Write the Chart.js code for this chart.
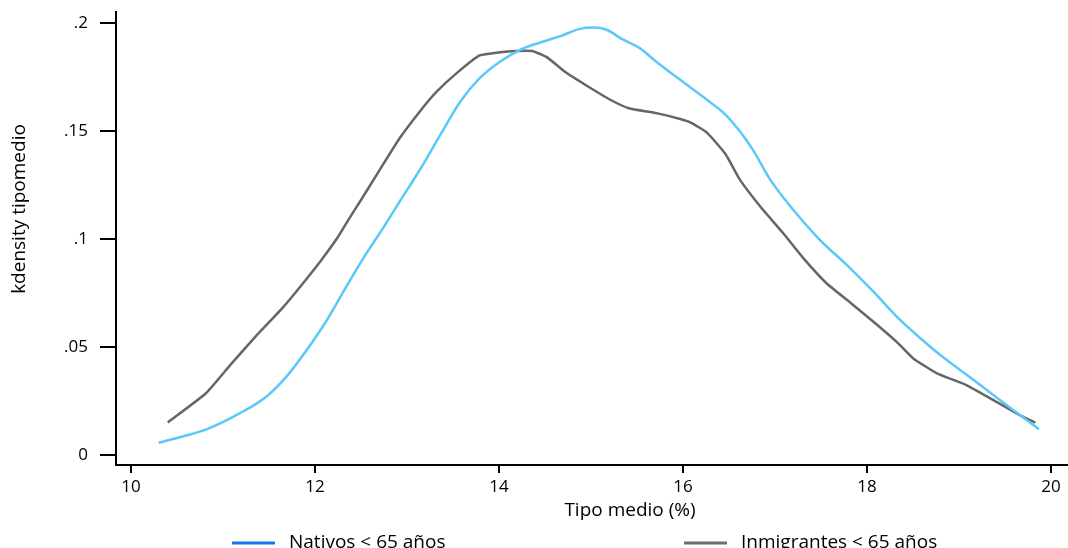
<!DOCTYPE html>
<html>
<head>
<meta charset="utf-8">
<script src="https://cdn.jsdelivr.net/npm/chart.js@4.4.1/dist/chart.umd.min.js"></script>
<style>
  body { margin: 0; background: #fff; }
  #wrap { width: 1068px; height: 548px; }
</style>
</head>
<body>
<div id="wrap"><canvas id="myChart"></canvas></div>
<script>
// kdensity of tipomedio
var natX = [10.30, 10.55, 10.82, 11.18, 11.47, 11.69, 11.91, 12.13, 12.34, 12.56, 12.74, 12.92, 13.14, 13.36, 13.58, 13.79, 14.01, 14.23, 14.45, 14.66, 14.88, 15.03, 15.17, 15.32, 15.53, 15.71, 15.97, 16.26, 16.45, 16.62, 16.76, 16.95, 17.20, 17.49, 17.78, 18.07, 18.36, 18.65, 18.79, 19.16, 19.52, 19.87];
var natY = [0.0057, 0.0085, 0.0119, 0.0193, 0.0270, 0.0363, 0.0486, 0.0625, 0.0779, 0.0934, 0.1050, 0.1173, 0.1320, 0.1480, 0.1636, 0.1744, 0.1820, 0.1875, 0.1909, 0.1937, 0.1972, 0.1978, 0.1968, 0.1929, 0.1883, 0.1820, 0.1736, 0.1644, 0.1580, 0.1497, 0.1412, 0.1273, 0.1134, 0.0995, 0.0880, 0.0756, 0.0625, 0.0515, 0.0465, 0.0347, 0.0231, 0.0119];

var immX = [10.40, 10.815, 11.08, 11.37, 11.66, 11.87, 12.07, 12.24, 12.38, 12.50, 12.71, 12.92, 13.14, 13.32, 13.54, 13.79, 14.01, 14.19, 14.36, 14.52, 14.72, 14.95, 15.21, 15.41, 15.71, 15.97, 16.08, 16.26, 16.46, 16.62, 16.84, 17.09, 17.31, 17.56, 17.82, 18.07, 18.32, 18.50, 18.76, 19.08, 19.37, 19.66, 19.83];
var immY = [0.0151, 0.0286, 0.0417, 0.0556, 0.0687, 0.0795, 0.0903, 0.1003, 0.1100, 0.1180, 0.1324, 0.1466, 0.1590, 0.1680, 0.1767, 0.1849, 0.1864, 0.1870, 0.1870, 0.1841, 0.1772, 0.1710, 0.1644, 0.1605, 0.1582, 0.1555, 0.1539, 0.1492, 0.1394, 0.1273, 0.1150, 0.1026, 0.0910, 0.0795, 0.0705, 0.0617, 0.0525, 0.0448, 0.0378, 0.0324, 0.0255, 0.0185, 0.0150];

var xTicks = [10, 12, 14, 16, 18, 20];
var yTicks = [0, 0.05, 0.1, 0.15, 0.2];
var yTickLabels = ["0", ".05", ".1", ".15", ".2"];

var seriesNames = ["Nativos < 65 años", "Inmigrantes < 65 años"];
var lineColors = ["#5ac8fa", "#666666"];
var legendColors = ["#1a73e8", "#6e6e6e"];

var FONT = "'Open Sans', 'DejaVu Sans', sans-serif";

function toPoints(xs, ys) {
  var pts = [];
  for (let i = 0; i < xs.length; i++) {
    pts.push({ x: xs[i], y: ys[i] });
  }
  return pts;
}

// titles and the bottom legend are drawn by hand so they sit where the original has them
const extras = {
  id: "extras",
  afterDraw(chart) {
    const c = chart.ctx;
    c.save();
    c.fillStyle = "#000";
    c.font = "19px " + FONT;

    c.save();
    c.translate(20, 209);
    c.rotate(-Math.PI / 2);
    c.textAlign = "center";
    c.textBaseline = "middle";
    c.fillText("kdensity tipomedio", 0, 0);
    c.restore();

    c.textAlign = "center";
    c.textBaseline = "middle";
    c.fillText("Tipo medio (%)", 630, 511);

    var lx = [232, 684];
    c.textAlign = "left";
    c.textBaseline = "alphabetic";
    for (let i = 0; i < seriesNames.length; i++) {
      c.strokeStyle = legendColors[i];
      c.lineWidth = 3;
      c.beginPath();
      c.moveTo(lx[i], 543);
      c.lineTo(lx[i] + 43, 543);
      c.stroke();
      c.fillStyle = "#000";
      c.fillText(seriesNames[i], lx[i] + 57, 548);
    }
    c.restore();
  }
};

var ctx = document.getElementById("myChart");
var myChart = new Chart(ctx, {
  type: "scatter",
  data: {
    datasets: [
      {
        label: seriesNames[0],
        data: toPoints(natX, natY),
        showLine: true,
        borderColor: lineColors[0],
        borderWidth: 2.5,
        pointRadius: 0,
        cubicInterpolationMode: "monotone",
      },
      {
        label: seriesNames[1],
        data: toPoints(immX, immY),
        showLine: true,
        borderColor: lineColors[1],
        borderWidth: 2.5,
        pointRadius: 0,
        tension: 0.15,
      },
    ],
  },
  options: {
    responsive: true,
    maintainAspectRatio: false,
    animation: false,
    layout: { padding: { top: 12, left: 0, right: 0, bottom: 0 } },
    plugins: {
      legend: { display: false },
      tooltip: { enabled: false },
    },
    scales: {
      x: {
        type: "linear",
        min: 9.837,
        max: 20.185,
        afterBuildTicks: (scale) => { scale.ticks = xTicks.map((v) => ({ value: v })); },
        afterFit: (scale) => { scale.height = 83; scale.paddingLeft = 0; scale.paddingRight = 0; },
        ticks: {
          color: "#000",
          font: { family: FONT, size: 17 },
          padding: 4,
          maxRotation: 0,
          callback: (v) => String(v),
        },
        grid: { drawOnChartArea: false, tickLength: 8, color: "#000", lineWidth: 2 },
        border: { color: "#000", width: 2 },
      },
      y: {
        type: "linear",
        min: -0.0046,
        max: 0.205,
        afterBuildTicks: (scale) => { scale.ticks = yTicks.map((v) => ({ value: v })); },
        afterFit: (scale) => { scale.width = 116; scale.paddingTop = 0; scale.paddingBottom = 0; },
        ticks: {
          color: "#000",
          font: { family: FONT, size: 17 },
          padding: 12,
          callback: (v) => yTickLabels[yTicks.indexOf(v)],
        },
        grid: { drawOnChartArea: false, tickLength: 16, color: "#000", lineWidth: 2 },
        border: { color: "#000", width: 2 },
      },
    },
  },
  plugins: [extras],
});
</script>
</body>
</html>
